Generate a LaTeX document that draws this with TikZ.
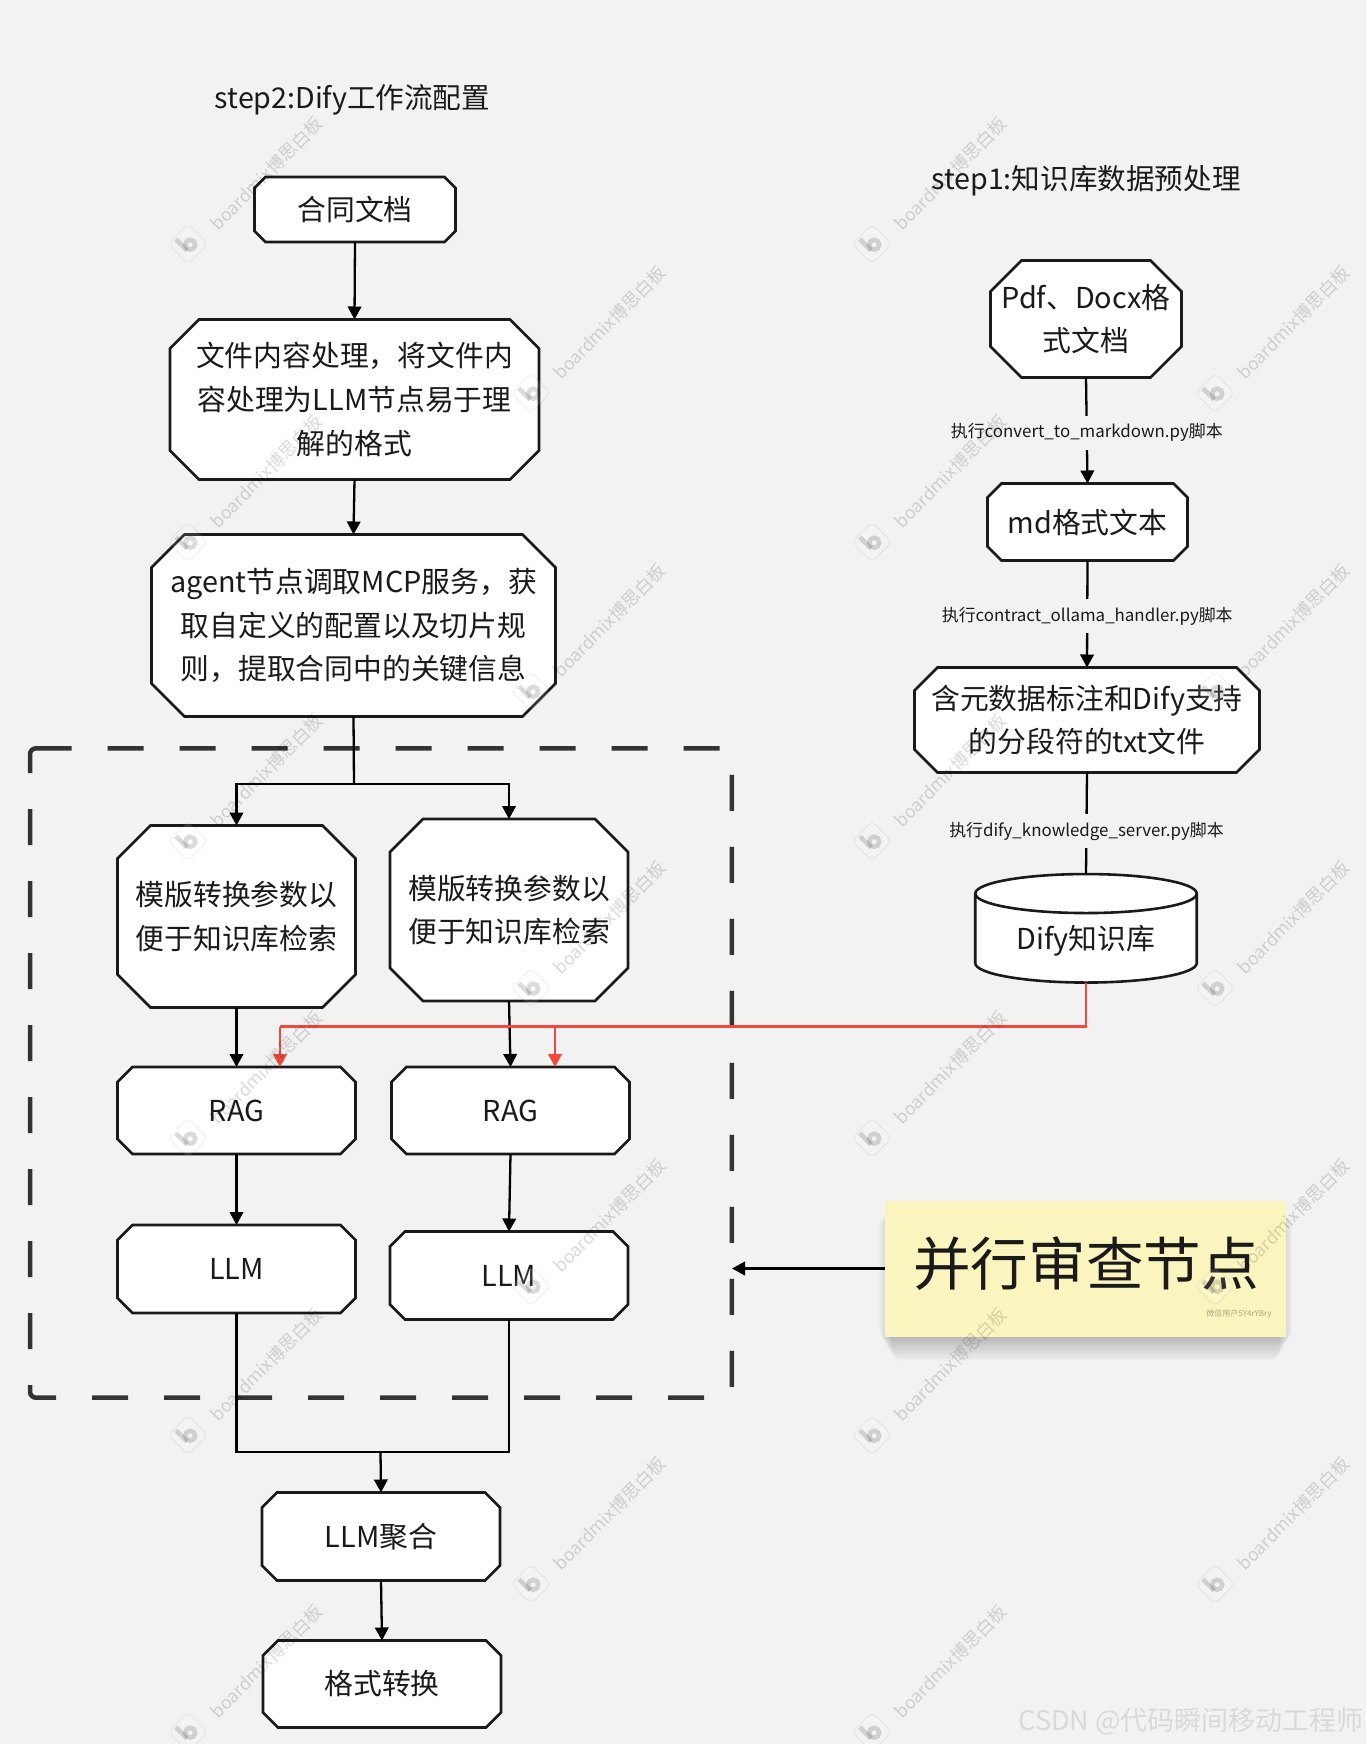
\documentclass[tikz,border=0pt]{standalone}
\usepackage{fontspec}
\setmainfont{Noto Sans CJK SC}
\usetikzlibrary{arrows.meta}
\definecolor{pagebg}{HTML}{F2F2F2}
\definecolor{ink}{HTML}{1A1A1A}
\definecolor{framecol}{HTML}{333333}
\definecolor{redline}{HTML}{F4483B}
\definecolor{notefill}{HTML}{FAF5BE}
\newcommand\boxfont{\fontsize{28.8}{43.6}\selectfont}
\makeatletter
\pgfkeyssetvalue{/pgf/octa chamfer}{10pt}
\pgfdeclareshape{octa}{
  \inheritsavedanchors[from=rectangle]
  \inheritanchorborder[from=rectangle]
  \inheritanchor[from=rectangle]{center}
  \inheritanchor[from=rectangle]{north}
  \inheritanchor[from=rectangle]{south}
  \inheritanchor[from=rectangle]{east}
  \inheritanchor[from=rectangle]{west}
  \backgroundpath{
    \pgfmathsetlength\pgf@xc{\pgfkeysvalueof{/pgf/octa chamfer}}
    \southwest \pgf@xa=\pgf@x \pgf@ya=\pgf@y
    \northeast \pgf@xb=\pgf@x \pgf@yb=\pgf@y
    \pgfpathmoveto{\pgfqpoint{\dimexpr\pgf@xa+\pgf@xc}{\pgf@yb}}
    \pgfpathlineto{\pgfqpoint{\dimexpr\pgf@xb-\pgf@xc}{\pgf@yb}}
    \pgfpathlineto{\pgfqpoint{\pgf@xb}{\dimexpr\pgf@yb-\pgf@xc}}
    \pgfpathlineto{\pgfqpoint{\pgf@xb}{\dimexpr\pgf@ya+\pgf@xc}}
    \pgfpathlineto{\pgfqpoint{\dimexpr\pgf@xb-\pgf@xc}{\pgf@ya}}
    \pgfpathlineto{\pgfqpoint{\dimexpr\pgf@xa+\pgf@xc}{\pgf@ya}}
    \pgfpathlineto{\pgfqpoint{\pgf@xa}{\dimexpr\pgf@ya+\pgf@xc}}
    \pgfpathlineto{\pgfqpoint{\pgf@xa}{\dimexpr\pgf@yb-\pgf@xc}}
    \pgfpathclose
  }
}
\pgfdeclareshape{drum}{
  \inheritsavedanchors[from=rectangle]
  \inheritanchorborder[from=rectangle]
  \inheritanchor[from=rectangle]{center}
  \inheritanchor[from=rectangle]{north}
  \inheritanchor[from=rectangle]{south}
  \inheritanchor[from=rectangle]{east}
  \inheritanchor[from=rectangle]{west}
  \backgroundpath{
    \southwest \pgf@xa=\pgf@x \pgf@ya=\pgf@y
    \northeast \pgf@xb=\pgf@x \pgf@yb=\pgf@y
    \pgf@xc=\dimexpr(\pgf@xb-\pgf@xa)/2\relax
    \edef\drumrx{\the\pgf@xc}
    \edef\drumxl{\the\pgf@xa}
    \edef\drumxr{\the\pgf@xb}
    \edef\drumyt{\the\dimexpr\pgf@yb-19.5pt}
    \edef\drumyb{\the\dimexpr\pgf@ya+19.5pt}
    \pgfpathmoveto{\pgfqpoint{\drumxl}{\drumyb}}
    \pgfpathlineto{\pgfqpoint{\drumxl}{\drumyt}}
    \pgfpatharc{180}{0}{\drumrx and 19.5pt}
    \pgfpathlineto{\pgfqpoint{\drumxr}{\drumyb}}
    \pgfpatharc{360}{180}{\drumrx and 19.5pt}
    \pgfpathclose
  }
  \beforebackgroundpath{
    \southwest \pgf@xa=\pgf@x
    \northeast \pgf@xb=\pgf@x \pgf@yb=\pgf@y
    \pgf@xc=\dimexpr(\pgf@xb-\pgf@xa)/2\relax
    \edef\drumrx{\the\pgf@xc}
    \pgfpathmoveto{\pgfqpoint{\pgf@xa}{\dimexpr\pgf@yb-19.5pt}}
    \pgfpatharc{180}{360}{\drumrx and 19.5pt}
    \pgfusepath{stroke}
  }
}
\makeatother
\tikzset{
  octabox/.style={shape=octa, draw=ink, fill=white, line width=2.6pt, inner sep=0pt, outer sep=0pt,
    align=center, text=ink, font=\boxfont},
  octsize/.style n args={3}{minimum width=#1pt, minimum height=#2pt, octa chamfer=#3pt},
  octa chamfer/.code={\pgfkeyssetvalue{/pgf/octa chamfer}{#1}},
  drumbox/.style={shape=drum, draw=ink, fill=white, line width=2.6pt, inner sep=0pt, outer sep=0pt,
    text=ink, font=\boxfont, minimum width=221.5pt, minimum height=108.5pt},
  headline/.style={text=ink, font=\fontsize{28.6}{40}\selectfont, inner sep=0pt},
  arr/.style={draw=black, line width=2.3pt, -{Triangle[length=13pt,width=13.5pt]}},
  plain/.style={draw=black, line width=2.3pt},
  redarr/.style={draw=redline, line width=2.4pt, -{Triangle[length=13pt,width=13.5pt]}},
  redplain/.style={draw=redline, line width=2.4pt},
  groupframe/.style={draw=framecol, line width=4.5pt, rounded corners=6pt, dash pattern=on 36pt off 36pt},
  stepnote/.style={fill=pagebg, text=ink, font=\fontsize{16.9}{20}\selectfont, inner xsep=2pt, inner ysep=0pt, minimum height=34pt, yshift=-2pt},
  wmtext/.style={text=black, text opacity=0.15, rotate=45, font=\fontsize{17.7}{20}\selectfont, inner sep=0pt},
  wmlogo/.style={draw=black, draw opacity=0.06, fill=white, fill opacity=0.12, line width=1pt, rounded corners=6pt},
  wmb/.style={draw=black, draw opacity=0.14, line width=4.5pt},
}
\begin{document}
\begin{tikzpicture}[x=1pt,y=-1pt]
\useasboundingbox (0,0) rectangle (1366,1744);
\fill[pagebg] (0,0) rectangle (1366,1744);

% dashed parallel group
\draw[groupframe] (35.7,748.3) -- (731.8,748.3) -- (731.8,1397.7) -- (30,1397.7) -- (30,748.3) -- (42,748.3);
\coordinate (grpE) at (732,1268.5);

% titles
\node[headline] (title2) at (352.5,100) {step2:Dify工作流配置};
\node[headline] (title1) at (1086,180.5) {step1:知识库数据预处理};

% left column
\node[octabox, octsize={201}{65}{11}] (doc) at (355,209.5) {合同文档};
\node[octabox, octsize={369}{160}{29}] (proc) at (354.5,399.5) {文件内容处理，将文件内\\容处理为LLM节点易于理\\解的格式};
\node[octabox, octsize={404}{182}{33}] (agent) at (353.5,625.5) {agent节点调取MCP服务，获\\取自定义的配置以及切片规\\则，提取合同中的关键信息};
\node[octabox, octsize={238}{182}{33}] (tplL) at (236.5,916.5) {模版转换参数以\\便于知识库检索};
\node[octabox, octsize={238}{182}{33}] (tplR) at (509,910) {模版转换参数以\\便于知识库检索};
\node[octabox, octsize={238}{87}{15}] (ragL) at (236.5,1110.5) {RAG};
\node[octabox, octsize={238}{87}{15}] (ragR) at (510.5,1110.5) {RAG};
\node[octabox, octsize={238}{88}{15}] (llmL) at (236.5,1269) {LLM};
\node[octabox, octsize={238}{88}{15}] (llmR) at (509,1275.5) {LLM};
\node[octabox, octsize={238}{88}{15}] (agg) at (381,1536.5) {LLM聚合};
\node[octabox, octsize={238}{87}{15}] (fmt) at (382,1684) {格式转换};

% right column
\node[octabox, octsize={191}{117}{31}] (pdf) at (1086,319) {Pdf、Docx格\\式文档};
\node[octabox, octsize={200}{77}{14}] (md) at (1087.5,522) {md格式文本};
\node[octabox, octsize={345}{105}{23}] (meta) at (1087,720) {含元数据标注和Dify支持\\的分段符的txt文件};
\node[drumbox] (kb) at (1086,928.3) {\raisebox{-21pt}[0pt][0pt]{Dify知识库}};

% note
\foreach \i in {0,...,13}
  \fill[black, opacity=0.016, rounded corners=10pt] (892-\i,1215) rectangle (1279+\i,1361-1.7*\i);
\node[fill=notefill, minimum width=401pt, minimum height=135.4pt, inner sep=0pt] (note) at (1085.5,1269) {};
\node[text=ink, font=\fontsize{57.6}{60}\selectfont, inner sep=0pt] (notetxt) at (1086,1263.3) {并行审查节点};
\node[text=black, text opacity=0.32, font=\fontsize{8}{10}\selectfont, inner sep=0pt] (notesig) at (1239,1314) {微信用户5Y4rYBry};

% connectors: left column
\draw[arr] (doc.south) -- (proc.north);
\draw[arr] (proc.south) -- (agent.north);
\coordinate (split) at (354,784);
\draw[plain] (agent.south) -- (split);
\draw[arr] (split) -| (tplL.north);
\draw[arr] (split) -| (tplR.north);
\draw[arr] (tplL.south) -- (ragL.north);
\draw[arr] (tplR.south) -- (ragR.north);
\draw[arr] (ragL.south) -- (llmL.north);
\draw[arr] (ragR.south) -- (llmR.north);
\coordinate (merge) at (380.5,1452);
\draw[plain] (llmL.south) |- (merge);
\draw[plain] (llmR.south) |- (merge);
\draw[arr] (merge) -- (agg.north);
\draw[arr] (agg.south) -- (fmt.north);

% connectors: right column
\draw[arr] (pdf.south) -- node[stepnote, pos=0.5] (lab1) {执行convert\_to\_markdown.py脚本} (md.north);
\draw[arr] (md.south) -- node[stepnote, pos=0.5] (lab2) {执行contract\_ollama\_handler.py脚本} (meta.north);
\draw[plain] (meta.south) -- node[stepnote, pos=0.56] (lab3) {执行dify\_knowledge\_server.py脚本} (kb.north);

% red knowledge feed
\coordinate (busL) at (280,1026.5);
\coordinate (busR) at (555,1026.5);
\coordinate (ragLin) at (280,1067);
\coordinate (ragRin) at (555,1067);
\draw[redplain] (kb.south) |- (busL);
\draw[redarr] (busL) -- (ragLin);
\draw[redarr] (busR) -- (ragRin);

% note arrow
\draw[arr] (note.west |- grpE) -- (grpE);

% board watermarks
\foreach \lx/\ly [count=\n] in {188/244,188/542,188/841,188/1138,188/1435,188/1732,
  872/244,872/542,872/841,872/1138,872/1435,872/1732,
  531/393,531/691,531/988,531/1286,531/1584,
  1215/393,1215/691,1215/988,1215/1286,1215/1584}{
  \begin{scope}[shift={(\lx,\ly)}, rotate=45]
    \draw[wmlogo] (-14,-14) rectangle (14,14);
    \draw[wmb] (-5.2,-12) -- (-5.2,4);
    \draw[wmb] (1.1,2.1) circle (5);
  \end{scope}
  \node[wmtext] (wm\n) at (\lx+78.5,\ly-70.5) {boardmix博思白板};
}
\node[text=black!15, font=\fontsize{27}{30}\selectfont, inner sep=0pt, anchor=east] (csdn) at (1364,1721) {CSDN @代码瞬间移动工程师};
\end{tikzpicture}
\end{document}
